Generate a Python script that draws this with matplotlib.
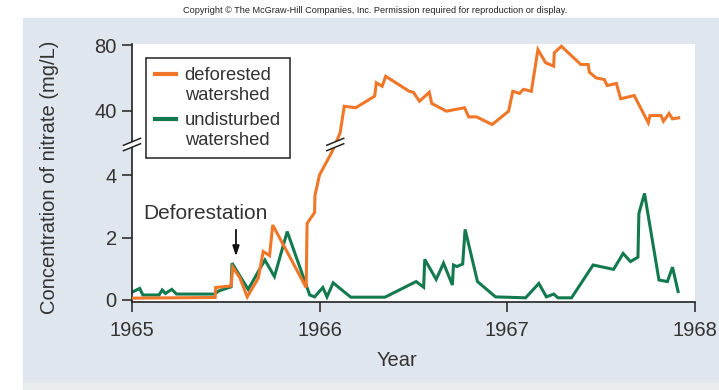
import numpy as np
import matplotlib
matplotlib.use('Agg')
import matplotlib.pyplot as plt
from matplotlib.transforms import ScaledTranslation
from matplotlib.legend_handler import HandlerLine2D
from matplotlib.patches import Rectangle, Polygon

# deforested watershed (mg/L)
years_def = [1965.007, 1965.443, 1965.446, 1965.528, 1965.537, 1965.574, 1965.614,
             1965.673, 1965.699, 1965.733, 1965.750, 1965.928, 1965.933, 1965.973,
             1965.975, 1965.999, 1966.053, 1966.070, 1966.109, 1966.131, 1966.192,
             1966.293, 1966.302, 1966.333, 1966.352, 1966.477, 1966.499, 1966.532,
             1966.584, 1966.597, 1966.676, 1966.772, 1966.794, 1966.836, 1966.919,
             1967.007, 1967.029, 1967.065, 1967.086, 1967.128, 1967.163, 1967.204,
             1967.247, 1967.250, 1967.288, 1967.392, 1967.431, 1967.437, 1967.473,
             1967.517, 1967.532, 1967.581, 1967.604, 1967.676, 1967.751, 1967.760,
             1967.819, 1967.832, 1967.862, 1967.880, 1967.913]
nitrate_def = [0.06, 0.08, 0.40, 0.45, 1.05, 0.72, 0.10,
               0.70, 1.55, 1.42, 2.40, 0.40, 2.45, 2.80,
               3.35, 4.00, 4.60, 4.80, 26.3, 42.6, 41.7,
               48.8, 57.0, 54.9, 61.0, 51.8, 51.2, 45.7,
               51.2, 44.3, 39.6, 41.7, 36.1, 36.1, 31.4,
               39.6, 51.8, 50.5, 53.0, 51.8, 77.4, 69.3,
               67.2, 75.4, 79.4, 68.2, 68.2, 63.5, 60.0,
               59.0, 55.3, 56.6, 47.2, 49.2, 32.5, 36.9,
               36.9, 33.4, 38.2, 34.9, 35.5]

# undisturbed watershed (mg/L)
years_und = [1965.007, 1965.041, 1965.058, 1965.144, 1965.161, 1965.178, 1965.212,
             1965.237, 1965.441, 1965.462, 1965.528, 1965.533, 1965.619, 1965.708,
             1965.759, 1965.827, 1965.947, 1965.973, 1966.017, 1966.039, 1966.072,
             1966.145, 1966.166, 1966.348, 1966.514, 1966.554, 1966.560, 1966.621,
             1966.660, 1966.707, 1966.713, 1966.731, 1966.762, 1966.775, 1966.841,
             1966.937, 1967.097, 1967.168, 1967.208, 1967.247, 1967.270, 1967.342,
             1967.457, 1967.566, 1967.617, 1967.656, 1967.696, 1967.701, 1967.731,
             1967.808, 1967.853, 1967.880, 1967.910]
nitrate_und = [0.27, 0.37, 0.16, 0.16, 0.32, 0.21, 0.34,
               0.19, 0.19, 0.29, 0.42, 1.18, 0.34, 1.28,
               0.75, 2.19, 0.16, 0.10, 0.40, 0.10, 0.55,
               0.19, 0.09, 0.09, 0.59, 0.41, 1.30, 0.66,
               1.18, 0.48, 1.12, 1.07, 1.15, 2.26, 0.59,
               0.10, 0.07, 0.53, 0.10, 0.19, 0.07, 0.07,
               1.12, 0.98, 1.49, 1.23, 1.37, 2.77, 3.41,
               0.64, 0.59, 1.05, 0.27]

year_ticks = [1965, 1966, 1967, 1968]
conc_ticks = [0, 2, 4, 40, 80]

orange = '#f07628'
green = '#13794f'
txt = '#333333'

plt.rcParams['font.family'] = ['Liberation Sans', 'DejaVu Sans']

# broken y axis: 0-4.9 stretched, 21-80 compressed
brk_v = [-10, 0, 4.9, 21, 200]
brk_f = [-312.5, 0, 153.1, 158.5, 158.5 + 179 * 1.63]


def fwd(v):
    return np.interp(v, brk_v, brk_f)


def inv(f):
    return np.interp(f, brk_f, brk_v)


fig = plt.figure(figsize=(7.19, 3.90), dpi=100)
fig.patch.set_facecolor('white')
fig.patches.append(Rectangle((23 / 719, 7 / 390), 696 / 719, 365 / 390,
                             transform=fig.transFigure, color='#dfe6ed', zorder=-10))
fig.patches.append(Rectangle((23 / 719, 0), 696 / 719, 7 / 390,
                             transform=fig.transFigure, color='#e8ecef', zorder=-10))
fig.text(0.522, 0.974, 'Copyright \u00a9 The McGraw-Hill Companies, Inc. Permission required for reproduction or display.',
         ha='center', va='center', fontsize=6.6, color='#222222')

ax = fig.add_axes([132 / 719, 88 / 390, 563 / 719, 258 / 390])
ax.set_facecolor('white')
ax.set_yscale('function', functions=(fwd, inv))

ax.plot(years_und, nitrate_und, color=green, lw=2.2, solid_joinstyle='miter', zorder=2,
        label='undisturbed\nwatershed')
ax.plot(years_def, nitrate_def, color=orange, lw=2.2, solid_joinstyle='miter', zorder=3,
        label='deforested\nwatershed')

ax.set_xlim(1965, 1968)
ax.set_ylim(-0.064, 80.8)
ax.set_xticks(year_ticks)
ax.set_yticks(conc_ticks)
ax.set_xticklabels([str(y) for y in year_ticks])
ax.tick_params(axis='both', direction='out', length=7, width=1.1, colors='#222222',
               labelsize=14.5, labelcolor=txt)
ax.tick_params(axis='x', pad=7)
ax.tick_params(axis='y', pad=4)
ax.minorticks_off()
for s in ['top', 'right']:
    ax.spines[s].set_visible(False)
for s in ['left', 'bottom']:
    ax.spines[s].set_linewidth(1.2)
    ax.spines[s].set_color('#222222')

ax.set_xlabel('Year', fontsize=14.5, color=txt)
ax.xaxis.set_label_coords(0.47, -0.19)
ax.set_ylabel('Concentration of nitrate (mg/L)', fontsize=14.5, color=txt)
ax.yaxis.set_label_coords(-0.13, 0.485)


def break_mark(xv, yv, xform):
    t = fig.dpi_scale_trans + ScaledTranslation(xv, yv, xform)
    hw, sl, sep = 0.085, 0.41, 0.027
    xs = np.array([-hw, hw])
    ax.add_patch(Polygon([(-hw, -sep - sl * hw), (hw, -sep + sl * hw),
                          (hw, sep + sl * hw), (-hw, sep - sl * hw)],
                         closed=True, facecolor='white', edgecolor='none',
                         transform=t, zorder=5, clip_on=False))
    for s in (-sep, sep):
        ax.plot(xs, s + sl * xs, transform=t, color='#222222', lw=1.1,
                clip_on=False, zorder=6)


break_mark(0, 12, ax.get_yaxis_transform())
break_mark(1966.083, 12, ax.transData)

# deforestation marker
ax.text(1965.39, 2.78, 'Deforestation', fontsize=15, color=txt, ha='center', va='center')
ax.annotate('', xy=(1965.554, 1.4), xytext=(1965.554, 2.25),
            arrowprops=dict(arrowstyle='-|>,head_length=0.6,head_width=0.2',
                            color='#111111', lw=1.3, shrinkA=0, shrinkB=0))


class HandlerTopLine(HandlerLine2D):
    def create_artists(self, legend, orig_handle, xdescent, ydescent, width,
                       height, fontsize, trans):
        arts = super().create_artists(legend, orig_handle, xdescent, ydescent,
                                      width, height, fontsize, trans)
        for a in arts:
            a.set_ydata(np.asarray(a.get_ydata()) + 0.6 * fontsize)
        return arts


handles, labels = ax.get_legend_handles_labels()
leg = ax.legend(handles[::-1], labels[::-1], loc='upper left',
                bbox_to_anchor=(0.025, 0.946), borderaxespad=0, fontsize=13.2,
                frameon=True, fancybox=False, edgecolor='#222222', framealpha=1,
                handlelength=1.15, handletextpad=0.45, borderpad=0.5,
                labelspacing=0.45, handler_map={plt.Line2D: HandlerTopLine()})
leg.get_frame().set_linewidth(1.1)
for t in leg.get_texts():
    t.set_color(txt)
    t.set_linespacing(1.2)
for h in leg.get_lines():
    h.set_linewidth(3)

fig.savefig('out.png', dpi=100)
